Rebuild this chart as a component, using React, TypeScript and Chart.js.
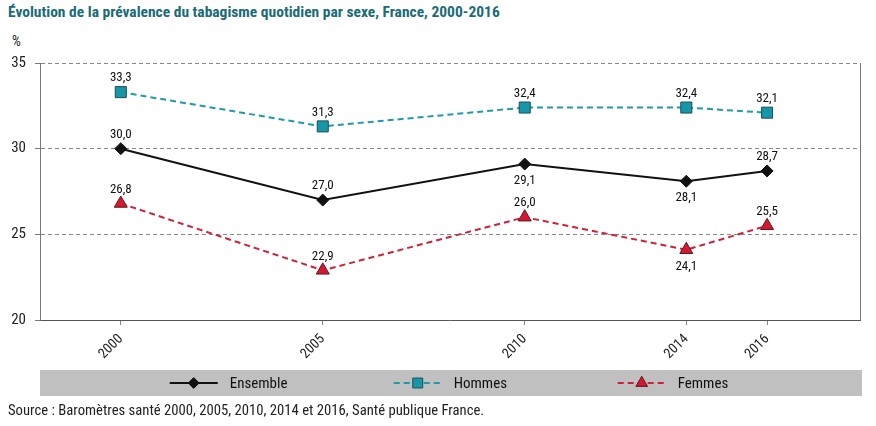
import React, { useEffect, useRef } from "react";
import { Chart, registerables } from "chart.js";

Chart.register(...registerables);

const years = [2000, 2005, 2010, 2014, 2016];
const ensemble = [30.0, 27.0, 29.1, 28.1, 28.7];
const hommes = [33.3, 31.3, 32.4, 32.4, 32.1];
const femmes = [26.8, 22.9, 26.0, 24.1, 25.5];
const yTicks = [20, 25, 30, 35];
const seriesNames = ["Ensemble", "Hommes", "Femmes"];
// label placement per series point: "a" above, "b" below
const labelPlacement = [
  ["a", "a", "b", "b", "a"],
  ["a", "a", "a", "a", "a"],
  ["a", "a", "a", "b", "a"],
];

const FONT = "'Liberation Sans Narrow', 'Roboto Condensed', 'DejaVu Sans Condensed', 'Liberation Sans', Arial, sans-serif";

const fmt = (v: number) => v.toFixed(1).replace(".", ",");

function drawMarker(ctx: CanvasRenderingContext2D, style: string, r: number, x: number, y: number) {
  ctx.beginPath();
  if (style === "rectRot") {
    ctx.moveTo(x, y - r);
    ctx.lineTo(x + r, y);
    ctx.lineTo(x, y + r);
    ctx.lineTo(x - r, y);
  } else if (style === "rect") {
    const s = r * Math.SQRT1_2;
    ctx.rect(x - s, y - s, 2 * s, 2 * s);
  } else {
    const c = Math.cos(Math.PI / 6) * r;
    ctx.moveTo(x, y - r);
    ctx.lineTo(x + c, y + r / 2);
    ctx.lineTo(x - c, y + r / 2);
  }
  ctx.closePath();
  ctx.fill();
  ctx.stroke();
}

const valueLabels = {
  id: "valueLabels",
  afterDatasetsDraw(chart: any) {
    const ctx = chart.ctx;
    ctx.save();
    ctx.font = `13px ${FONT}`;
    ctx.fillStyle = "#111";
    ctx.textAlign = "center";
    ctx.textBaseline = "middle";
    chart.data.datasets.forEach((ds: any, di: number) => {
      const meta = chart.getDatasetMeta(di);
      meta.data.forEach((pt: any, i: number) => {
        const v = ds.data[i].y;
        const below = labelPlacement[di][i] === "b";
        ctx.fillText(fmt(v), pt.x, below ? pt.y + 17 : pt.y - 14);
      });
    });
    ctx.restore();
  },
};

const frame = {
  id: "frame",
  afterDraw(chart: any) {
    const { ctx, chartArea } = chart;
    ctx.save();
    ctx.strokeStyle = "#777";
    ctx.lineWidth = 1;
    ctx.beginPath();
    ctx.moveTo(chartArea.right + 0.5, chartArea.top);
    ctx.lineTo(chartArea.right + 0.5, chartArea.bottom);
    ctx.stroke();
    ctx.restore();
  },
};

const bandLegend = {
  id: "bandLegend",
  afterDraw(chart: any) {
    const { ctx, chartArea } = chart;
    const top = chartArea.bottom + 50;
    const h = 26;
    ctx.save();
    ctx.fillStyle = "#c0c0c0";
    ctx.fillRect(chartArea.left, top, chartArea.right - chartArea.left + 2, h);
    const cy = top + h / 2;
    const centerX = (chartArea.left + chartArea.right) / 2;
    const step = 224;
    const symW = 48;
    ctx.font = `15px ${FONT}`;
    const lastW = symW + 14 + ctx.measureText(seriesNames[seriesNames.length - 1]).width;
    const total = step * (seriesNames.length - 1) + lastW;
    const start = centerX - total / 2;
    chart.data.datasets.forEach((ds: any, di: number) => {
      const x0 = start + di * step;
      ctx.save();
      ctx.strokeStyle = ds.borderColor;
      ctx.lineWidth = 2;
      ctx.setLineDash(ds.borderDash || []);
      ctx.beginPath();
      ctx.moveTo(x0, cy);
      ctx.lineTo(x0 + symW, cy);
      ctx.stroke();
      ctx.restore();
      ctx.save();
      ctx.fillStyle = ds.pointBackgroundColor;
      ctx.strokeStyle = ds.pointBorderColor;
      ctx.lineWidth = 1;
      drawMarker(ctx, ds.pointStyle, ds.pointRadius * 0.9, x0 + symW / 2, cy);
      ctx.restore();
      ctx.fillStyle = "#111";
      ctx.textAlign = "left";
      ctx.textBaseline = "middle";
      ctx.fillText(ds.label, x0 + symW + 12, cy + 1);
    });
    ctx.restore();
  },
};

const toPoints = (vals: number[]) => vals.map((v, i) => ({ x: years[i], y: v }));

export default function App() {
  const ref = useRef<HTMLCanvasElement | null>(null);
  useEffect(() => {
    if (!ref.current) return;
    const chart = new Chart(ref.current, {
      type: "line",
      data: {
        datasets: [
          {
            label: seriesNames[0],
            data: toPoints(ensemble),
            borderColor: "#111",
            borderWidth: 2,
            pointStyle: "rectRot",
            pointRadius: 6,
            pointBackgroundColor: "#111",
            pointBorderColor: "#111",
            pointBorderWidth: 1,
          },
          {
            label: seriesNames[1],
            data: toPoints(hommes),
            borderColor: "#1e9bab",
            borderWidth: 2,
            borderDash: [6, 4],
            pointStyle: "rect",
            pointRadius: 7.8,
            pointBackgroundColor: "#1597a8",
            pointBorderColor: "#1d4d57",
            pointBorderWidth: 1,
          },
          {
            label: seriesNames[2],
            data: toPoints(femmes),
            borderColor: "#d0213a",
            borderWidth: 2,
            borderDash: [6, 4],
            pointStyle: "triangle",
            pointRadius: 7.5,
            pointBackgroundColor: "#d3182f",
            pointBorderColor: "#5c1a22",
            pointBorderWidth: 1,
          },
        ] as any,
      },
      options: {
        animation: false,
        responsive: false,
        maintainAspectRatio: false,
        layout: { padding: { top: 63, left: 0, right: 16, bottom: 56 } },
        plugins: { legend: { display: false }, tooltip: { enabled: false }, title: { display: false } },
        scales: {
          x: {
            type: "linear",
            min: 1998,
            max: 2018.3,
            afterBuildTicks: (s: any) => {
              s.ticks = years.map((v) => ({ value: v }));
            },
            afterFit: (s: any) => {
              s.height = 50;
            },
            grid: { drawOnChartArea: false, drawTicks: true, tickLength: 5, color: "#888" },
            border: { display: true, color: "#555", width: 1 },
            ticks: {
              autoSkip: false,
              minRotation: 45,
              maxRotation: 45,
              padding: 6,
              color: "#222",
              font: { family: FONT, size: 14 },
              callback: (v: any) => String(v),
            },
          },
          y: {
            min: 20,
            max: 35,
            afterBuildTicks: (s: any) => {
              s.ticks = yTicks.map((v) => ({ value: v }));
            },
            afterFit: (s: any) => {
              s.width = 40;
            },
            grid: {
              color: (c: any) => (c.tick && c.tick.value === 20 ? "rgba(0,0,0,0)" : "#888"),
              tickColor: "#777",
              tickLength: 5,
              lineWidth: 1,
            },
            border: { display: true, color: "#777", width: 1, dash: [4, 3] },
            ticks: {
              padding: 9,
              color: "#222",
              font: { family: FONT, size: 15 },
              callback: (v: any) => String(v),
            },
          },
        },
      } as any,
      plugins: [valueLabels, frame, bandLegend],
    });
    return () => chart.destroy();
  }, []);

  return (
    <div style={{ position: "absolute", left: 0, top: 0, width: 876, height: 426, background: "#fff", fontFamily: FONT }}>
      <div style={{ position: "absolute", left: 8, top: 3, fontSize: 15.5, fontWeight: "bold", color: "#1b6b78", whiteSpace: "nowrap" }}>
        Évolution de la prévalence du tabagisme quotidien par sexe, France, 2000-2016
      </div>
      <div style={{ position: "absolute", left: 12, top: 33, fontSize: 14, color: "#222" }}>%</div>
      <canvas ref={ref} width={876} height={426} style={{ position: "absolute", left: 0, top: 0, width: 876, height: 426 }} />
      <div style={{ position: "absolute", left: 8, top: 401, fontSize: 14.7, color: "#222", whiteSpace: "nowrap" }}>
        Source : Baromètres santé 2000, 2005, 2010, 2014 et 2016, Santé publique France.
      </div>
    </div>
  );
}
